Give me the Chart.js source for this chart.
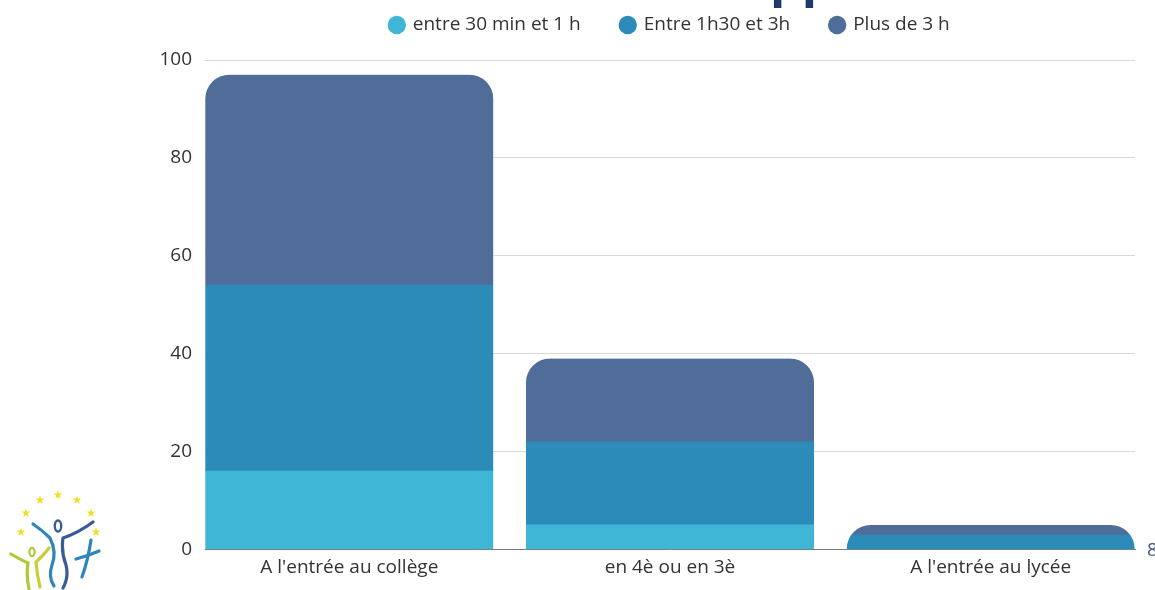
<!DOCTYPE html>
<html lang="fr">
<head>
<meta charset="utf-8">
<title>Durée d'écran</title>
<script src="https://cdn.jsdelivr.net/npm/chart.js@4/dist/chart.umd.min.js"></script>
<style>
  html, body { margin: 0; padding: 0; background: #fff; overflow: hidden; }
  #wrap { position: relative; width: 1155px; height: 590px; }
  #logo { position: absolute; left: 0; top: 480px; }
</style>
</head>
<body>
<div id="wrap">
  <canvas id="stackChart" width="1155" height="590"></canvas>
  <svg id="logo" width="110" height="110" viewBox="0 0 110 110">
    <defs>
      <polygon id="star" points="0,-4.5 1.1,-1.5 4.3,-1.4 1.8,0.6 2.7,3.7 0,1.9 -2.7,3.7 -1.8,0.6 -4.3,-1.4 -1.1,-1.5" fill="#f3df25"/>
    </defs>
    <use href="#star" x="21" y="52"/><use href="#star" x="26" y="33"/><use href="#star" x="40" y="20"/>
    <use href="#star" x="58" y="15"/><use href="#star" x="77" y="20"/><use href="#star" x="91" y="33"/>
    <use href="#star" x="96" y="52"/>
    <g fill="none" stroke-linecap="round" stroke-width="3.2">
      <ellipse cx="58" cy="46" rx="3.2" ry="5.5" stroke="#3a5c94" stroke-width="2.4"/>
      <path d="M33 44 Q42 50 50 58 Q57 72 52 85 Q48 97 54 106" stroke="#2f86ba"/>
      <path d="M93 42 Q78 53 63 58 Q61 72 66 85 Q69 97 63 108" stroke="#3a5c94"/>
      <path d="M76 79 Q88 76 99 71" stroke="#2f86ba"/>
      <path d="M91 60 Q88 80 82 97" stroke="#2f86ba"/>
      <ellipse cx="32" cy="72" rx="2.6" ry="4.2" stroke="#b3c634" stroke-width="2.2"/>
      <path d="M11 74 Q21 80 28 83 Q26 95 29 109" stroke="#b3c634"/>
      <path d="M49 68 Q43 76 36 82 Q37 95 40 107" stroke="#c9cf3a"/>
    </g>
  </svg>
</div>
<script>
// Temps passé par tranche, selon le moment de l'équipement
const categories = ["A l'entrée au collège", 'en 4è ou en 3è', "A l'entrée au lycée"];
const seriesNames = ['entre 30 min et 1 h', 'Entre 1h30 et 3h', 'Plus de 3 h'];
const shortUse = [16, 5, 0];
const mediumUse = [38, 17, 3];
const longUse = [43, 17, 2];
const yTicks = [0, 20, 40, 60, 80, 100];

const colors = ['#40b6d6', '#2c8bb9', '#4f6d98'];
const seriesValues = [shortUse, mediumUse, longUse];

const FONT = '"Open Sans", "Noto Sans", sans-serif';

// rounds the top of each whole stack instead of each segment
const roundStacks = {
  id: 'roundStacks',
  beforeDatasetsDraw(chart) {
    const ctx = chart.ctx;
    const base = chart.scales.y.getPixelForValue(0);
    ctx.save();
    ctx.beginPath();
    for (let i = 0; i < categories.length; i++) {
      let top = base, left = null, width = 0;
      chart.data.datasets.forEach((ds, d) => {
        const el = chart.getDatasetMeta(d).data[i];
        if (!el) return;
        top = Math.min(top, el.y);
        left = el.x - el.width / 2;
        width = el.width;
      });
      if (left === null || base - top <= 0) continue;
      const r = Math.min(24, base - top, width / 2);
      ctx.roundRect(left, top, width, base - top, [r, r, 0, 0]);
    }
    ctx.clip();
  },
  afterDatasetsDraw(chart) {
    chart.ctx.restore();
  }
};

// legend sits in a taller box so the plot starts lower
const legendBox = {
  id: 'legendBox',
  afterInit(chart) {
    const legend = chart.legend;
    const fit = legend.fit;
    legend.fit = function () {
      fit.call(this);
      this.height = 85;
    };
  }
};

// text cut by the edges of the frame
const edgeText = {
  id: 'edgeText',
  afterDraw(chart) {
    const ctx = chart.ctx;
    ctx.save();
    ctx.fillStyle = '#1f3a68';
    ctx.font = 'bold 50px ' + FONT;
    ctx.textBaseline = 'alphabetic';
    ctx.fillText('pp', 770, -4);
    ctx.fillStyle = '#4a5a78';
    ctx.font = '19px ' + FONT;
    ctx.textBaseline = 'middle';
    ctx.fillText('8', 1147, 551);
    ctx.restore();
  }
};

const datasets = seriesNames.map((name, s) => ({
  label: name,
  data: seriesValues[s].map((v, i) => ({ x: i, y: v })),
  backgroundColor: colors[s],
  borderWidth: 0,
  barThickness: 288
}));

new Chart(document.getElementById('stackChart').getContext('2d'), {
  type: 'bar',
  data: { datasets: datasets },
  plugins: [roundStacks, legendBox, edgeText],
  options: {
    responsive: false,
    animation: false,
    layout: { padding: { top: -25, right: 20, bottom: 11.8, left: 0 } },
    plugins: {
      title: { display: false },
      tooltip: { enabled: false },
      legend: {
        display: true,
        position: 'top',
        fullSize: false,
        labels: {
          usePointStyle: true,
          pointStyle: 'circle',
          boxWidth: 13,
          boxHeight: 13,
          padding: 40.5,
          color: '#333',
          font: { family: FONT, size: 19 }
        }
      }
    },
    scales: {
      x: {
        type: 'linear',
        stacked: true,
        offset: false,
        min: -0.45,
        max: 2.45,
        grid: { display: false },
        border: { display: true, color: '#7a7a7a', width: 1 },
        ticks: {
          stepSize: 1,
          includeBounds: false,
          autoSkip: false,
          maxRotation: 0,
          padding: -1,
          color: '#333',
          font: { family: FONT, size: 19 },
          callback: v => (Number.isInteger(v) && categories[v] !== undefined ? categories[v] : '')
        }
      },
      y: {
        stacked: true,
        min: 0,
        max: 100,
        afterBuildTicks: scale => { scale.ticks = yTicks.map(v => ({ value: v })); },
        afterFit: scale => { scale.width = 205; },
        grid: { color: '#d9d9d9', drawTicks: false },
        border: { display: false },
        ticks: {
          padding: 13,
          color: '#333',
          font: { family: FONT, size: 19 }
        }
      }
    }
  }
});
</script>
</body>
</html>
